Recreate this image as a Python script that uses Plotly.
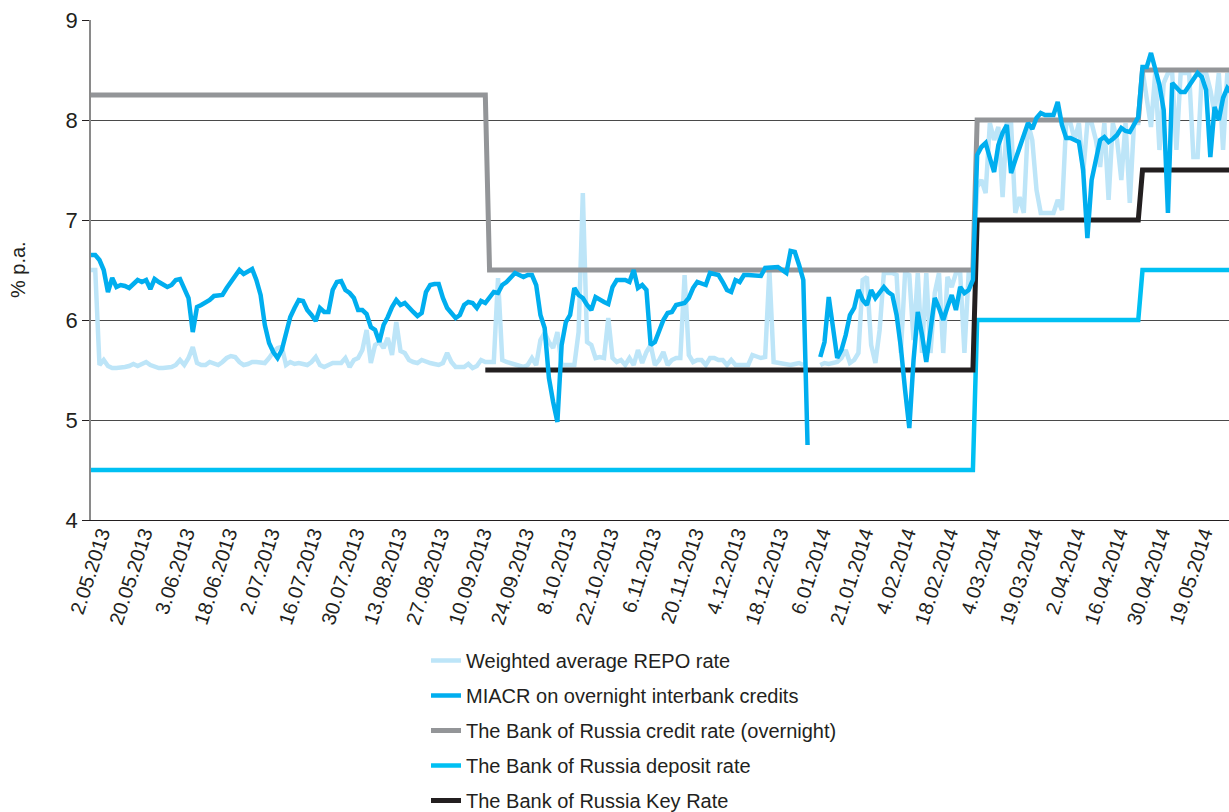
import plotly.graph_objects as go

# ---- categories: trading-day index (0 = 2.05.2013), labels every 10 trading days
tick_idx = list(range(0, 261, 10))
tick_labels = ["2.05.2013", "20.05.2013", "3.06.2013", "18.06.2013", "2.07.2013",
               "16.07.2013", "30.07.2013", "13.08.2013", "27.08.2013", "10.09.2013",
               "24.09.2013", "8.10.2013", "22.10.2013", "6.11.2013", "20.11.2013",
               "4.12.2013", "18.12.2013", "6.01.2014", "21.01.2014", "4.02.2014",
               "18.02.2014", "4.03.2014", "19.03.2014", "2.04.2014", "16.04.2014",
               "30.04.2014", "19.05.2014"]

miacr = [
    6.65, 6.65, 6.60, 6.50, 6.28, 6.42, 6.33, 6.35, 6.34, 6.32,
    6.36, 6.40, 6.38, 6.40, 6.31, 6.41, 6.38, 6.35, 6.33, 6.35,
    6.40, 6.41, 6.32, 6.22, 5.88, 6.13, 6.15, 6.17, 6.20, 6.24,
    6.25, 6.25, 6.32, 6.38, 6.43, 6.50, 6.46, 6.49, 6.51, 6.40,
    6.25, 5.95, 5.77, 5.68, 5.62, 5.70, 5.88, 6.03, 6.12, 6.20,
    6.19, 6.10, 6.05, 5.99, 6.12, 6.08, 6.08, 6.30, 6.38, 6.39,
    6.30, 6.27, 6.22, 6.10, 6.10, 6.06, 5.93, 5.90, 5.78, 5.95,
    6.03, 6.13, 6.20, 6.15, 6.17, 6.12, 6.08, 6.04, 6.07, 6.28,
    6.35, 6.36, 6.36, 6.22, 6.12, 6.07, 6.02, 6.05, 6.15, 6.18,
    6.17, 6.12, 6.19, 6.17, 6.22, 6.28, 6.27, 6.35, 6.38, 6.42,
    6.47, 6.45, 6.43, 6.45, 6.45, 6.35, 6.05, 5.92, 5.42, 5.18,
    4.98, 5.75, 5.98, 6.05, 6.32, 6.25, 6.22, 6.15, 6.10, 6.23,
    6.20, 6.18, 6.16, 6.33, 6.40, 6.40, 6.40, 6.38, 6.50, 6.32,
    6.35, 6.30, 5.75, 5.78, 5.90, 6.00, 6.07, 6.08, 6.15, 6.16,
    6.17, 6.22, 6.32, 6.38, 6.37, 6.35, 6.47, 6.46, 6.45, 6.38,
    6.30, 6.28, 6.40, 6.38, 6.45, 6.45, 6.45, 6.45, 6.44, 6.52,
    6.52, 6.52, 6.53, 6.50, 6.47, 6.69, 6.68, 6.55, 6.40, 4.75,
    None, None, 5.63, 5.78, 6.23, 5.90, 5.62, 5.70, 5.85, 6.05,
    6.12, 6.30, 6.20, 6.15, 6.30, 6.22, 6.27, 6.33, 6.28, 6.25,
    6.05, 5.73, 5.30, 4.92, 5.60, 6.08, 5.85, 5.58, 5.90, 6.22,
    6.12, 6.00, 6.13, 6.25, 6.10, 6.33, 6.27, 6.30, 6.40, 7.65,
    7.73, 7.77, 7.62, 7.48, 7.75, 7.87, 7.95, 7.47, 7.60, 7.73,
    7.85, 7.97, 7.91, 8.02, 8.07, 8.05, 8.05, 8.05, 8.18, 7.95,
    7.82, 7.82, 7.80, 7.78, 7.50, 6.82, 7.40, 7.62, 7.80, 7.83,
    7.78, 7.81, 7.85, 7.92, 7.89, 7.88, 7.95, 8.03, 8.53, 8.53,
    8.67, 8.50, 8.35, 8.10, 7.07, 8.37, 8.32, 8.28, 8.28, 8.35,
    8.42, 8.47, 8.43, 8.30, 7.63, 8.13, 8.00, 8.22, 8.32, 8.27,
]

repo = [
    6.50, 6.50, 5.55, 5.60, 5.54, 5.52, 5.52, 5.52, 5.53, 5.54,
    5.56, 5.54, 5.56, 5.58, 5.55, 5.53, 5.52, 5.52, 5.52, 5.53,
    5.55, 5.60, 5.55, 5.62, 5.73, 5.57, 5.55, 5.55, 5.58, 5.56,
    5.55, 5.58, 5.62, 5.64, 5.63, 5.58, 5.55, 5.56, 5.58, 5.58,
    5.58, 5.57, 5.62, 5.68, 5.72, 5.73, 5.55, 5.58, 5.56, 5.57,
    5.56, 5.55, 5.58, 5.63, 5.55, 5.53, 5.55, 5.57, 5.57, 5.57,
    5.62, 5.53, 5.60, 5.62, 5.70, 5.90, 5.57, 5.75, 5.78, 5.72,
    5.82, 5.65, 5.98, 5.69, 5.67, 5.60, 5.58, 5.57, 5.60, 5.58,
    5.57, 5.56, 5.55, 5.57, 5.67, 5.58, 5.53, 5.53, 5.53, 5.56,
    5.52, 5.54, 5.60, 5.58, 5.58, 5.58, 6.42, 5.60, 5.58, 5.57,
    5.56, 5.55, 5.53, 5.55, 5.62, 5.55, 5.80, 5.87, 5.78, 5.72,
    5.88, 5.55, 5.55, 5.55, 5.55, 5.88, 7.27, 5.78, 5.75, 5.62,
    5.63, 5.62, 6.02, 5.62, 5.58, 5.60, 5.55, 5.62, 5.55, 5.70,
    5.57, 5.68, 5.75, 5.55, 5.60, 5.68, 5.55, 5.60, 5.62, 5.62,
    6.45, 5.65, 5.58, 5.60, 5.60, 5.55, 5.62, 5.62, 5.60, 5.60,
    5.55, 5.60, 5.55, 5.55, 5.55, 5.55, 5.65, 5.63, 5.62, 5.63,
    6.50, 5.58, 5.57, 5.56, 5.55, 5.55, 5.56, 5.57, 5.55, None,
    None, None, 5.55, 5.57, 5.56, 5.57, 5.58, 5.62, 5.70, 5.57,
    5.60, 5.67, 6.40, 6.43, 5.75, 5.57, 5.90, 6.47, 6.47, 6.47,
    6.45, 5.67, 6.47, 6.45, 5.80, 6.47, 5.67, 6.47, 5.67, 6.27,
    6.47, 5.67, 6.43, 6.33, 6.47, 6.47, 5.67, 6.47, 6.47, 7.33,
    7.40, 7.27, 7.97, 7.80, 7.93, 7.23, 7.97, 7.97, 7.07, 7.23,
    7.07, 7.97, 7.80, 7.30, 7.07, 7.07, 7.07, 7.07, 7.20, 7.10,
    7.97, 7.97, 7.80, 7.97, 7.47, 7.97, 7.97, 7.80, 7.53, 7.97,
    7.20, 7.97, 7.80, 7.40, 7.97, 7.17, 7.97, 7.97, 8.50, 8.20,
    7.93, 8.47, 7.70, 8.37, 8.47, 8.47, 7.70, 8.47, 8.47, 8.47,
    7.63, 7.63, 8.47, 8.47, 8.30, 8.07, 8.47, 7.70, 8.47, 8.37,
]

days = list(range(len(miacr)))

# policy rates: change points (trading-day index, value)
credit_idx = [0, 93, 94, 208, 209, 247, 248, 269]
credit_val = [8.25, 8.25, 6.5, 6.5, 8.0, 8.0, 8.5, 8.5]
deposit_idx = [0, 208, 209, 247, 248, 269]
deposit_val = [4.5, 4.5, 6.0, 6.0, 6.5, 6.5]
key_idx = [93, 208, 209, 247, 248, 269]
key_val = [5.5, 5.5, 7.0, 7.0, 7.5, 7.5]

FONT = "Liberation Sans, Arial, sans-serif"
INK = "#231F20"

fig = go.Figure()
fig.add_trace(go.Scatter(x=days, y=repo, mode="lines", name="Weighted average REPO rate",
                         line=dict(color="#BDE5F8", width=4.5), legendrank=1,
                         legendgroup="a"))
fig.add_trace(go.Scatter(x=credit_idx, y=credit_val, mode="lines",
                         name="The Bank of Russia credit rate (overnight)",
                         line=dict(color="#939598", width=5), legendrank=3,
                         legendgroup="c"))
fig.add_trace(go.Scatter(x=deposit_idx, y=deposit_val, mode="lines",
                         name="The Bank of Russia deposit rate",
                         line=dict(color="#00C0F3", width=4.5), legendrank=4,
                         legendgroup="d"))
fig.add_trace(go.Scatter(x=key_idx, y=key_val, mode="lines",
                         name="The Bank of Russia Key Rate",
                         line=dict(color=INK, width=5), legendrank=5,
                         legendgroup="e"))
fig.add_trace(go.Scatter(x=days, y=miacr, mode="lines",
                         name="MIACR on overnight interbank credits",
                         line=dict(color="#00AEEF", width=4.5), legendrank=2,
                         legendgroup="b"))

xr = [0, 268.4]
fig.update_layout(
    width=1229, height=812,
    margin=dict(l=91, r=0, t=20, b=292, autoexpand=False),
    paper_bgcolor="white", plot_bgcolor="white",
    font=dict(family=FONT, color=INK, size=20),
    showlegend=True,
    legend=dict(x=0.2944, xanchor="left", y=-0.242, yanchor="top",
                font=dict(size=20, family=FONT, color=INK),
                traceorder="grouped", tracegroupgap=6,
                bgcolor="rgba(0,0,0,0)", itemwidth=30),
    xaxis=dict(range=xr, tickmode="array", tickvals=tick_idx, ticktext=tick_labels,
               tickangle=-72, ticks="", showline=True, linecolor=INK, linewidth=1,
               showgrid=False, zeroline=False, automargin=False,
               ticklabelstandoff=-7, ticklabelshift=10,
               tickfont=dict(size=20, family=FONT, color=INK)),
    xaxis2=dict(range=xr, overlaying="x", anchor="y", side="bottom",
                tickmode="linear", tick0=0, dtick=12, ticks="inside", ticklen=7,
                tickcolor=INK, tickwidth=1, showticklabels=False, showgrid=False,
                showline=False, zeroline=False),
    yaxis=dict(range=[4, 9], tickmode="linear", tick0=4, dtick=1,
               ticks="outside", ticklen=7, tickcolor=INK, tickwidth=1.2,
               showgrid=True, gridcolor="#4a4a4a", gridwidth=1,
               showline=True, linecolor="#8a8a8a", linewidth=1.5, zeroline=False,
               automargin=False,
               tickfont=dict(size=22, family=FONT, color=INK)),
    annotations=[dict(text="% p.a.", xref="paper", yref="paper", x=-0.0641, y=0.5,
                      textangle=-90, showarrow=False, xanchor="center", yanchor="middle",
                      font=dict(size=20, family=FONT, color=INK))],
)

fig.write_html("out.html", config={"displayModeBar": False},
               post_script="document.body.style.margin='0';document.body.style.overflow='hidden';")
